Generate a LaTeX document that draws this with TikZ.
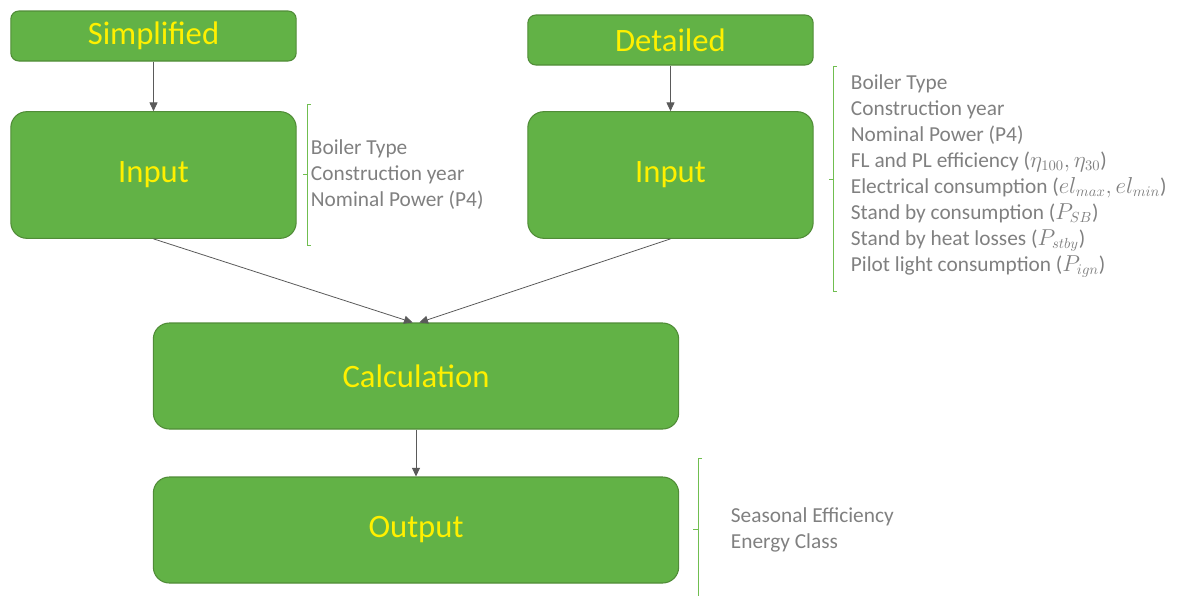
\documentclass[tikz,border=0pt]{standalone}
\usepackage{fontspec}
\setmainfont{Carlito}
\usepackage{tikz}
\usetikzlibrary{arrows.meta,positioning}
\definecolor{boxgreen}{RGB}{98,178,70}
\definecolor{boxedge}{RGB}{80,140,55}
\definecolor{titleyellow}{RGB}{255,240,0}
\definecolor{notegray}{RGB}{128,128,128}
\definecolor{arrowgray}{RGB}{90,90,90}
\definecolor{bracegreen}{RGB}{112,190,80}
\tikzset{
    >={Triangle[length=6.5pt,width=6pt]},
    block/.style={rectangle,rounded corners=6pt,draw=boxedge,fill=boxgreen,line width=0.8pt,
        text=titleyellow,font=\fontsize{24.5}{28}\selectfont,inner sep=0pt},
    bigblock/.style={block,rounded corners=12pt},
    note/.style={anchor=west,align=left,text=notegray,inner sep=2pt,
        font=\fontsize{16}{19.5}\selectfont},
    flow/.style={->,draw=arrowgray,line width=0.6pt},
    brace/.style={draw=bracegreen,line width=0.7pt}
}

\begin{document}
\begin{tikzpicture}[x=0.75pt,y=-0.75pt]
        \useasboundingbox (0,0) rectangle (1187,596);
        % Top level
        \node[block,minimum width=214pt,minimum height=37.5pt] (simp) at (153.5,36) {Simplified};
        \node[block,minimum width=214pt,minimum height=37.5pt] (det) at (670.5,40) {Detailed};

        % Inputs
        \node[bigblock,minimum width=214pt,minimum height=95pt] (inL) at (153.5,175) {Input};
        \node[bigblock,minimum width=214pt,minimum height=95pt] (inR) at (670.5,175) {Input};

        % Calculation and output
        \node[bigblock,minimum width=394pt,minimum height=79.5pt] (calc) at (416,376) {Calculation};
        \node[bigblock,minimum width=394pt,minimum height=79.5pt] (out) at (416,530) {Output};

        % Arrows
        \draw[flow] (simp) -- (inL);
        \draw[flow] (det) -- (inR);
        \draw[flow] (inL.south) -- ([xshift=-2.5pt]calc.north);
        \draw[flow] (inR.south) -- ([xshift=2.5pt]calc.north);
        \draw[flow] (calc) -- (out);

        % Notes
        \node[note] (noteL) at (308,175) {Boiler Type\\Construction year\\Nominal Power (P4)};
        \node[note] (noteR) at (848,176) {Boiler Type\\Construction year\\Nominal Power (P4)\\
            FL and PL efficiency ($\eta_{100}, \eta_{30}$)\\
            Electrical consumption ($el_{max}, el_{min}$)\\
            Stand by consumption ($P_{SB}$)\\
            Stand by heat losses ($P_{stby}$)\\
            Pilot light consumption ($P_{ign}$)};
        \node[note] (noteO) at (728,530) {Seasonal Efficiency\\Energy Class};

        % Brackets
        \draw[brace] (311,104) -- (307,104) -- (307,245) -- (311,245);
        \draw[brace] (307,174) -- (303,174);
        \draw[brace] (837,66) -- (833,66) -- (833,291) -- (837,291);
        \draw[brace] (833,179) -- (829,179);
        \draw[brace] (702,458) -- (698,458) -- (698,596);
        \draw[brace] (698,529) -- (693,529);
    \end{tikzpicture}
\end{document}
